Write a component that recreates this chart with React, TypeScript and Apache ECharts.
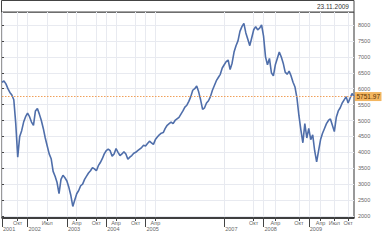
import React, { useEffect, useRef } from "react";
import * as echarts from "echarts";

const headerDate = "23.11.2009";

const dates: string[] = [
  "2001-05-08","2001-05-27","2001-06-14","2001-07-02","2001-07-21","2001-08-08","2001-08-26","2001-09-13","2001-10-01","2001-10-20","2001-11-07","2001-11-25","2001-12-13",
  "2002-01-01","2002-01-19","2002-02-06","2002-02-24","2002-03-15","2002-04-02","2002-04-20","2002-05-08","2002-05-27","2002-06-14","2002-07-02","2002-07-21","2002-08-08","2002-08-26","2002-09-13","2002-10-01","2002-10-20","2002-11-07","2002-11-25","2002-12-13",
  "2003-01-01","2003-01-19","2003-02-06","2003-02-24","2003-03-15","2003-04-02","2003-04-20","2003-05-08","2003-05-27","2003-06-14","2003-07-02","2003-07-21","2003-08-08","2003-08-26","2003-09-13","2003-10-01","2003-10-20","2003-11-07","2003-11-25","2003-12-13",
  "2004-01-01","2004-01-19","2004-02-06","2004-02-24","2004-03-15","2004-04-02","2004-04-20","2004-05-08","2004-05-27","2004-06-14","2004-07-02","2004-07-21","2004-08-08","2004-08-26","2004-09-13","2004-10-01","2004-10-20","2004-11-07","2004-11-25","2004-12-13",
  "2005-01-01","2005-01-19","2005-02-06","2005-02-24","2005-03-15","2005-04-02","2005-04-20","2005-05-08","2005-05-27","2005-06-14","2005-07-02","2005-07-21","2005-08-08","2005-08-26","2005-09-13","2005-10-01","2005-10-20","2005-11-07","2005-11-25","2005-12-13",
  "2006-01-01","2006-01-19","2006-02-06","2006-02-24","2006-03-15","2006-04-02","2006-04-20","2006-05-08","2006-05-27","2006-06-14","2006-07-02","2006-07-21","2006-08-08","2006-08-26","2006-09-13","2006-10-01","2006-10-20","2006-11-07","2006-11-25","2006-12-13",
  "2007-01-01","2007-01-19","2007-02-06","2007-02-24","2007-03-15","2007-04-02","2007-04-20","2007-05-08","2007-05-27","2007-06-14","2007-07-02","2007-07-21","2007-08-08","2007-08-26","2007-09-13","2007-10-01","2007-10-20","2007-11-07","2007-11-25","2007-12-13",
  "2008-01-01","2008-01-17","2008-02-02","2008-02-18","2008-03-05","2008-03-21","2008-04-06","2008-04-22","2008-05-08","2008-05-24","2008-06-09","2008-06-25","2008-07-11","2008-07-27","2008-08-12","2008-08-28","2008-09-13","2008-09-29","2008-10-15","2008-10-31","2008-11-16","2008-12-02","2008-12-18",
  "2009-01-02","2009-01-16","2009-01-30","2009-02-13","2009-02-27","2009-03-16","2009-04-01","2009-04-14","2009-04-27","2009-05-11","2009-05-25","2009-06-08","2009-06-22","2009-07-06","2009-07-17","2009-07-31","2009-08-13","2009-08-26","2009-09-08","2009-09-21","2009-10-05","2009-10-22","2009-11-06","2009-11-23",
];

const values: number[] = [
  6200, 6240, 6150, 6000, 5880, 5800, 5650, 4900, 3850, 4500,
  4680, 4950, 5120, 5230, 5120, 4950, 4850, 5300, 5380, 5200,
  5000, 4750, 4450, 4200, 3950, 3800, 3400, 3250, 3050, 2700,
  3150, 3280, 3200, 3100, 2900, 2650, 2300, 2500, 2700, 2800,
  2950, 3000, 3150, 3250, 3350, 3420, 3520, 3480, 3420, 3580,
  3680, 3800, 3950, 4050, 4100, 4050, 3880, 3950, 4120, 4000,
  3900, 3950, 4020, 3950, 3780, 3850, 3900, 3970, 4000, 4050,
  4100, 4150, 4220, 4200, 4280, 4350, 4300, 4250, 4400, 4480,
  4550, 4600, 4620, 4750, 4850, 4900, 4950, 4900, 5000, 5050,
  5100, 5200, 5300, 5420, 5480, 5600, 5750, 5950, 6000, 6080,
  5900, 5650, 5350, 5400, 5550, 5620, 5750, 5950, 6100, 6250,
  6350, 6450, 6650, 6750, 6850, 6900, 6600, 6800, 7150, 7350,
  7500, 7800, 7950, 8050, 7750, 7550, 7350, 7600, 7850, 7950,
  7850, 7900, 8000, 7650, 7000, 6750, 6950, 6500, 6400, 6750,
  6950, 7150, 7000, 6800, 6520, 6450, 6550, 6400, 6200, 6050,
  5700, 5150, 4700, 4300, 4900, 4450, 4750, 4400, 4550, 4050,
  3700, 4050, 4400, 4600, 4750, 4900, 5000, 5050, 4850, 4650,
  5100, 5300, 5400, 5550, 5650, 5750, 5550, 5700, 5850, 5751.97,
];

const monthTickKeys = ["2001-10","2002-07","2003-04","2003-10","2004-04","2004-10","2005-04","2007-10","2008-04","2008-10","2009-04","2009-07","2009-10"];
const monthTickNames = ["Окт","Июл","Апр","Окт","Апр","Окт","Апр","Окт","Апр","Окт","Апр","Июл","Окт"];
const yearTicks = ["2001","2002","2003","2004","2005","2007","2008","2009"];

const yMin = 2000;
const yMax = 8000;
const yStep = 500;

const FONT = "Liberation Sans";

export default function App() {
  const ref = useRef<HTMLDivElement>(null);
  useEffect(() => {
    const chart = echarts.init(ref.current!, null, { renderer: "svg" });
    const monthIdx = (i: number) => {
      const m = dates[i].slice(0, 7);
      if (i > 0 && dates[i - 1].slice(0, 7) === m) return -1;
      return monthTickKeys.indexOf(m);
    };
    const isYear = (i: number) => {
      const y = dates[i].slice(0, 4);
      if (i > 0 && dates[i - 1].slice(0, 4) === y) return false;
      return yearTicks.includes(y);
    };
    const last = values[values.length - 1];
    chart.setOption({
      animation: false,
      backgroundColor: "#ffffff",
      grid: [
        { left: 2, right: 29, top: 12, bottom: 22, show: true, borderColor: "#333", borderWidth: 1, backgroundColor: "transparent" },
        { left: 2, right: 29, top: 25, bottom: 24 },
      ],
      xAxis: [
        {
          type: "category", gridIndex: 0, data: dates, boundaryGap: false, position: "bottom",
          axisLine: { lineStyle: { color: "#222", width: 1.5 } },
          axisTick: { interval: (i: number) => monthIdx(i) >= 0, length: 3, lineStyle: { color: "#444" } },
          axisLabel: {
            interval: (i: number) => monthIdx(i) >= 0,
            formatter: (_v: string, i: number) => monthTickNames[monthIdx(i)] ?? "",
            fontSize: 5.5, color: "#666", margin: 2, fontFamily: FONT,
          },
          splitLine: { show: true, interval: (i: number) => monthIdx(i) >= 0 || isYear(i), lineStyle: { color: "#e8eaf0", width: 1 } },
        },
        {
          type: "category", gridIndex: 0, data: dates, boundaryGap: false, position: "bottom",
          axisLine: { show: false },
          axisTick: { interval: (i: number) => isYear(i), length: 9, lineStyle: { color: "#444" } },
          axisLabel: {
            interval: (i: number) => isYear(i),
            formatter: (v: string) => v.slice(0, 4),
            align: "left", fontSize: 5.5, color: "#666", margin: 8, fontFamily: FONT, padding: [0, 0, 0, 1],
          },
          splitLine: { show: false },
        },
        { type: "value", gridIndex: 1, show: false },
      ],
      yAxis: [
        { type: "value", gridIndex: 0, show: false, min: 1937, max: 8408 },
        {
          type: "value", gridIndex: 1, position: "right", min: yMin, max: yMax, interval: yStep,
          axisLine: { show: false },
          axisTick: { show: true, length: 2, lineStyle: { color: "#444" } },
          axisLabel: { fontSize: 5.5, color: "#666", margin: 4, fontFamily: FONT, formatter: (v: number) => String(v) },
          splitLine: { show: true, lineStyle: { color: "#e8eaf0", width: 1 } },
        },
      ],
      series: [
        {
          type: "line", xAxisIndex: 0, yAxisIndex: 0, data: values, showSymbol: false,
          lineStyle: { color: "#4f6eaa", width: 1.6 },
          markLine: {
            silent: true, symbol: ["none", "none"],
            lineStyle: { color: "#f0a05a", type: [1.5, 1.5], width: 1 },
            label: {
              show: true, position: "end", distance: 1, formatter: last.toFixed(2),
              backgroundColor: "#f3b660", color: "#5a3200", fontSize: 6.5, fontFamily: FONT,
              padding: [1.5, 1.5, 0.5, 1.5],
            },
            data: [{ yAxis: last }],
          },
        },
      ],
      graphic: [
        { type: "rect", shape: { x: 1.5, y: 0.5, width: 352.5, height: 11.5 }, style: { fill: "#fff", stroke: "#444", lineWidth: 1 } },
        { type: "text", x: 349, y: 6.5, style: { text: headerDate, align: "right", verticalAlign: "middle", font: `6.5px ${FONT}`, fill: "#333" } },
      ],
    });
    return () => chart.dispose();
  }, []);
  return <div ref={ref} style={{ position: "absolute", left: 0, top: 0, width: 383, height: 240 }} />;
}
